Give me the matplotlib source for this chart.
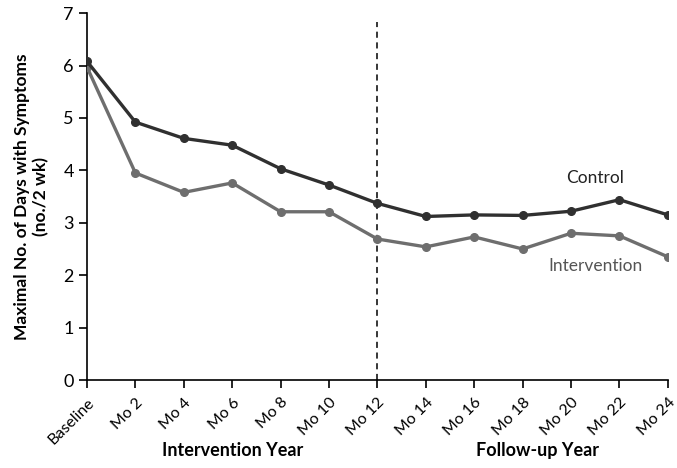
import matplotlib
matplotlib.use('Agg')
import matplotlib.pyplot as plt

# values
timepoints = ['Baseline', 'Mo 2', 'Mo 4', 'Mo 6', 'Mo 8', 'Mo 10', 'Mo 12',
              'Mo 14', 'Mo 16', 'Mo 18', 'Mo 20', 'Mo 22', 'Mo 24']
control = [6.08, 4.92, 4.61, 4.48, 4.03, 3.72, 3.37,
           3.12, 3.15, 3.14, 3.22, 3.44, 3.15]
intervention = [5.97, 3.95, 3.58, 3.76, 3.21, 3.21, 2.69,
                2.54, 2.73, 2.50, 2.80, 2.75, 2.35]
yticks = [0, 1, 2, 3, 4, 5, 6, 7]

plt.rcParams['font.family'] = ['Lato', 'DejaVu Sans']

fig = plt.figure(figsize=(6.77, 4.68), dpi=100)
ax = fig.add_axes([0.1285, 0.188, 0.858, 0.784])

x = list(range(len(timepoints)))
ax.plot(x, intervention, color='#6e6e6e', lw=2.4, marker='o', ms=5.5, zorder=3)
ax.plot(x, control, color='#303030', lw=2.4, marker='o', ms=5.5, zorder=4)

# boundary between intervention and follow-up year
ax.plot([6, 6], [0, 6.83], color='black', lw=1.1, ls=(0, (4, 3)), zorder=2)

ax.set_xlim(0, 12)
ax.set_ylim(0, 7)
ax.set_xticks(x)
ax.set_xticklabels(timepoints, rotation=45, ha='right', rotation_mode='anchor', fontsize=11.5)
ax.set_yticks(yticks)
ax.tick_params(axis='y', labelsize=13)
ax.tick_params(axis='x', pad=5)
ax.tick_params(direction='out', length=6, width=1.2, color='black')
for side in ['top', 'right']:
    ax.spines[side].set_visible(False)
for side in ['left', 'bottom']:
    ax.spines[side].set_linewidth(1.2)

ax.set_ylabel('Maximal No. of Days with Symptoms\n(no./2 wk)', fontsize=12.5,
              fontweight='bold', labelpad=10)

ax.text(10.5, 3.85, 'Control', fontsize=12.5, ha='center', va='center', color='#222222')
ax.text(10.5, 2.18, 'Intervention', fontsize=12.5, ha='center', va='center', color='#555555')

ax.text(3, -1.34, 'Intervention Year', fontsize=13, fontweight='bold', ha='center', va='center')
ax.text(9.3, -1.34, 'Follow-up Year', fontsize=13, fontweight='bold', ha='center', va='center')

fig.savefig('out.png', dpi=100)
